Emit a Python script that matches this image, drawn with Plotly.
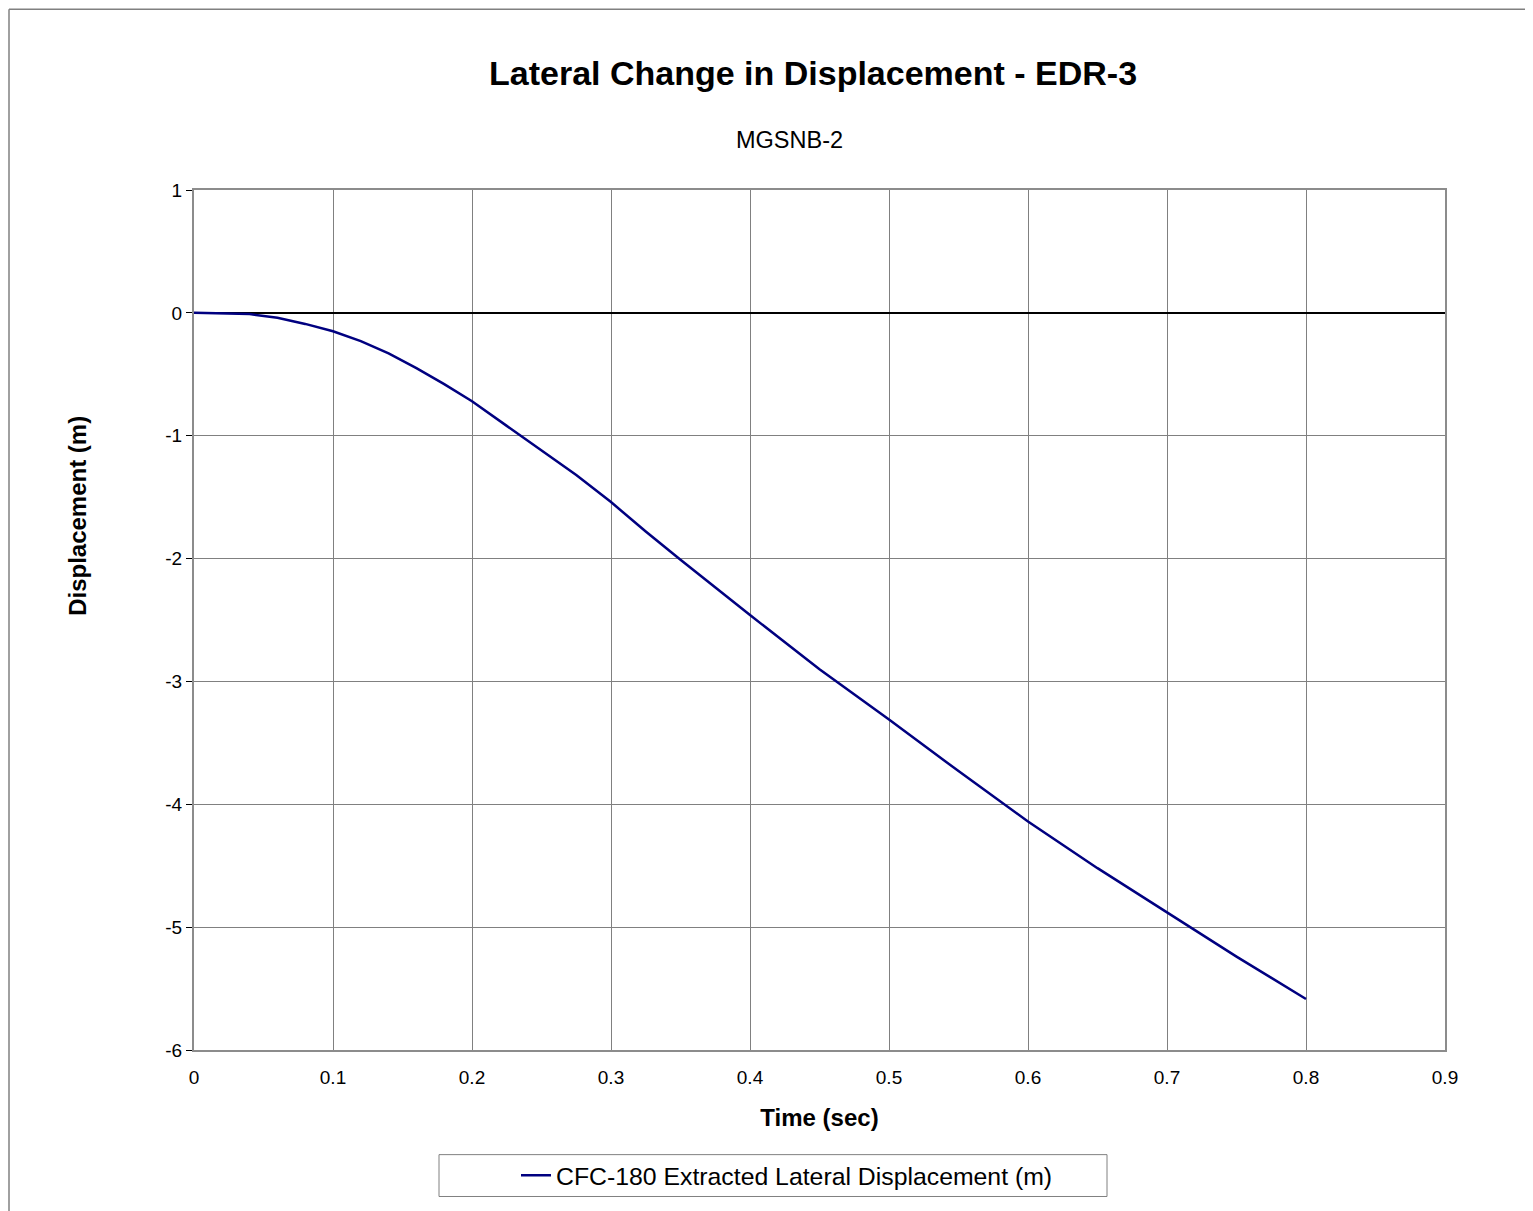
import plotly.graph_objects as go

time_s = [0, 0.02, 0.04, 0.06, 0.08, 0.1, 0.12, 0.14, 0.16, 0.18, 0.2, 0.225, 0.25, 0.275,
          0.3, 0.325, 0.35, 0.4, 0.45, 0.5, 0.55, 0.6, 0.65, 0.7, 0.75, 0.8]
disp_m = [0, -0.002, -0.01, -0.04, -0.09, -0.15, -0.23, -0.33, -0.45, -0.58, -0.72, -0.92,
          -1.12, -1.32, -1.54, -1.78, -2.01, -2.46, -2.90, -3.31, -3.73, -4.14, -4.52,
          -4.88, -5.24, -5.585]

x_ticks = [0, 0.1, 0.2, 0.3, 0.4, 0.5, 0.6, 0.7, 0.8, 0.9]
y_ticks = [1, 0, -1, -2, -3, -4, -5, -6]

series_name = "CFC-180 Extracted Lateral Displacement (m)"
title = "Lateral Change in Displacement - EDR-3"
subtitle = "MGSNB-2"
x_title = "Time (sec)"
y_title = "Displacement (m)"

OFF = 8  # page body margin
W, H = 1533 - OFF, 1211 - OFF
L, R, T, B = 194 - OFF, 1445 - OFF, 190 - OFF, 1053 - OFF

fig = go.Figure()
fig.add_trace(go.Scatter(x=time_s, y=disp_m, mode="lines", name=series_name,
                         line=dict(color="#000080", width=2.5)))

font = "Arial, Liberation Sans, sans-serif"

def px(xp):
    return (xp - OFF - L) / (R - L)

def py(yp):
    return (B - (yp - OFF)) / (B - T)

fig.update_layout(
    width=W, height=H,
    margin=dict(l=L, r=W - R, t=T, b=H - B, pad=0),
    paper_bgcolor="white", plot_bgcolor="white",
    font=dict(family=font, color="black", size=19),
    showlegend=True,
    legend=dict(orientation="h", x=px(516), xanchor="left", y=py(1179), yanchor="middle",
                borderwidth=0, font=dict(size=24.8), bgcolor="rgba(0,0,0,0)"),
    xaxis=dict(range=[0, 0.9], tickvals=x_ticks, ticktext=[str(v) for v in x_ticks],
               showgrid=True, gridcolor="#808080", gridwidth=1,
               showline=True, linecolor="#8c8c8c", linewidth=2, mirror=True,
               zeroline=True, zerolinecolor="black", zerolinewidth=2,
               ticks="outside", ticklen=9, tickcolor="rgba(0,0,0,0)", tickfont=dict(size=19),
               title=dict(text="<b>" + x_title + "</b>", font=dict(size=24), standoff=22)),
    yaxis=dict(range=[-6, 1], tickvals=y_ticks, ticktext=[str(v) for v in y_ticks],
               showgrid=True, gridcolor="#808080", gridwidth=1,
               showline=True, linecolor="#8c8c8c", linewidth=2, mirror=True,
               zeroline=True, zerolinecolor="black", zerolinewidth=1.5,
               ticks="outside", ticklen=6, tickcolor="black", tickfont=dict(size=19)),
    annotations=[
        dict(text="<b>" + title + "</b>", x=px(813), y=py(73), xref="paper", yref="paper",
             showarrow=False, font=dict(size=34), xanchor="center", yanchor="middle"),
        dict(text=subtitle, x=px(789), y=py(140), xref="paper", yref="paper",
             showarrow=False, font=dict(size=23.5), xanchor="center", yanchor="middle"),
        dict(text="<b>" + y_title + "</b>", x=px(78), y=py(517), xref="paper", yref="paper",
             showarrow=False, font=dict(size=24), textangle=-90,
             xanchor="center", yanchor="middle"),
    ],
    shapes=[
        dict(type="line", xref="paper", yref="paper", x0=px(9), x1=px(9), y0=py(1250), y1=py(8.5),
             line=dict(color="#808080", width=1.5), layer="below"),
        dict(type="line", xref="paper", yref="paper", x0=px(9), x1=px(1540), y0=py(8.5), y1=py(8.5),
             line=dict(color="#808080", width=1.5), layer="below"),
        dict(type="rect", xref="paper", yref="paper", x0=px(439), x1=px(1107), y0=py(1200), y1=py(1158),
             line=dict(color="#808080", width=1), layer="above"),
    ],
)

fig.write_html("out.html")
